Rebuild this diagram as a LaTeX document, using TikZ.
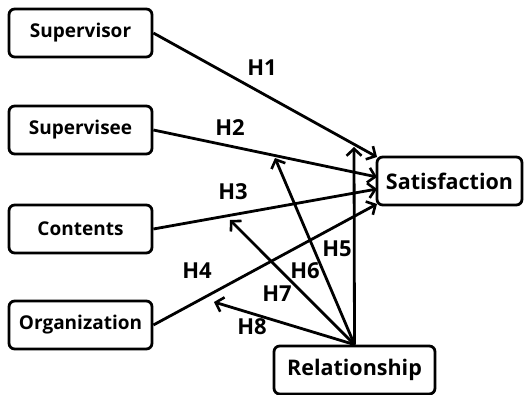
\documentclass[tikz,border=0pt]{standalone}
\usepackage{fontspec}
\setmainfont{Open Sans}
\usepackage{tikz}
\usetikzlibrary{positioning, arrows.meta}
\tikzstyle{canvas} = [x = 1pt, y = -1pt]
\tikzstyle{boxStyle} = [draw, line width = 2.8pt, rounded corners = .2cm, minimum width = 143pt, minimum height = 48pt, inner sep = 0pt, font = \bfseries\fontsize{19}{22}\selectfont]
\tikzstyle{bigBoxStyle} = [boxStyle, font = \bfseries\fontsize{21.5}{24}\selectfont]
\tikzstyle{pathStyle} = [-{Straight Barb[length = 7pt, width = 15pt, line width = 2.6pt]}, line width = 2.8pt]
\tikzstyle{hypText} = [font = \bfseries\fontsize{22}{25}\selectfont, inner sep = 0pt]
\newcommand{\factorBox}[4]{\node [boxStyle, minimum width = #4] (#1) at (#2) {#3};}
\newcommand{\outcomeBox}[4]{\node [bigBoxStyle, minimum width = #4] (#1) at (#2) {#3};}
\newcommand{\hypLabel}[3]{\node [hypText] (#1) at (#2) {#3};}

\begin{document}
\begin{tikzpicture}[canvas]
  \useasboundingbox (0,0) rectangle (529,395);
  \factorBox{supervisor}{80.5,33}{Supervisor}{143pt}
  \factorBox{supervisee}{80.5,130}{Supervisee}{143pt}
  \factorBox{contents}{80.5,229}{Contents}{143pt}
  \factorBox{organization}{80.5,325}{Organization}{143pt}
  \outcomeBox{satisfaction}{449.5,181}{Satisfaction}{145pt}
  \outcomeBox{relationship}{354.5,370}{Relationship}{161pt}

  \coordinate (tipOne) at (377,157);
  \coordinate (tipTwo) at (377,177);
  \coordinate (tipThree) at (377,189);
  \coordinate (tipFour) at (377,204);
  \coordinate (tipFive) at (354,147);
  \coordinate (tipSix) at (275,158);
  \coordinate (tipSeven) at (230,220);
  \coordinate (tipEight) at (214,302);

  \draw [pathStyle] (supervisor.east) -- (tipOne);
  \draw [pathStyle] (supervisee.east) -- (tipTwo);
  \draw [pathStyle] (contents.east) -- (tipThree);
  \draw [pathStyle] (organization.east) -- (tipFour);
  \draw [pathStyle] (relationship.north) -- (tipFive);
  \draw [pathStyle] (relationship.north) -- (tipSix);
  \draw [pathStyle] (relationship.north) -- (tipSeven);
  \draw [pathStyle] (relationship.north) -- (tipEight);

  \hypLabel{hOne}{262,68}{H1}
  \hypLabel{hTwo}{230,128}{H2}
  \hypLabel{hThree}{233,192}{H3}
  \hypLabel{hFour}{197,271}{H4}
  \hypLabel{hFive}{337,249}{H5}
  \hypLabel{hSix}{305,271}{H6}
  \hypLabel{hSeven}{277,294}{H7}
  \hypLabel{hEight}{252,327}{H8}
\end{tikzpicture}
\end{document}
